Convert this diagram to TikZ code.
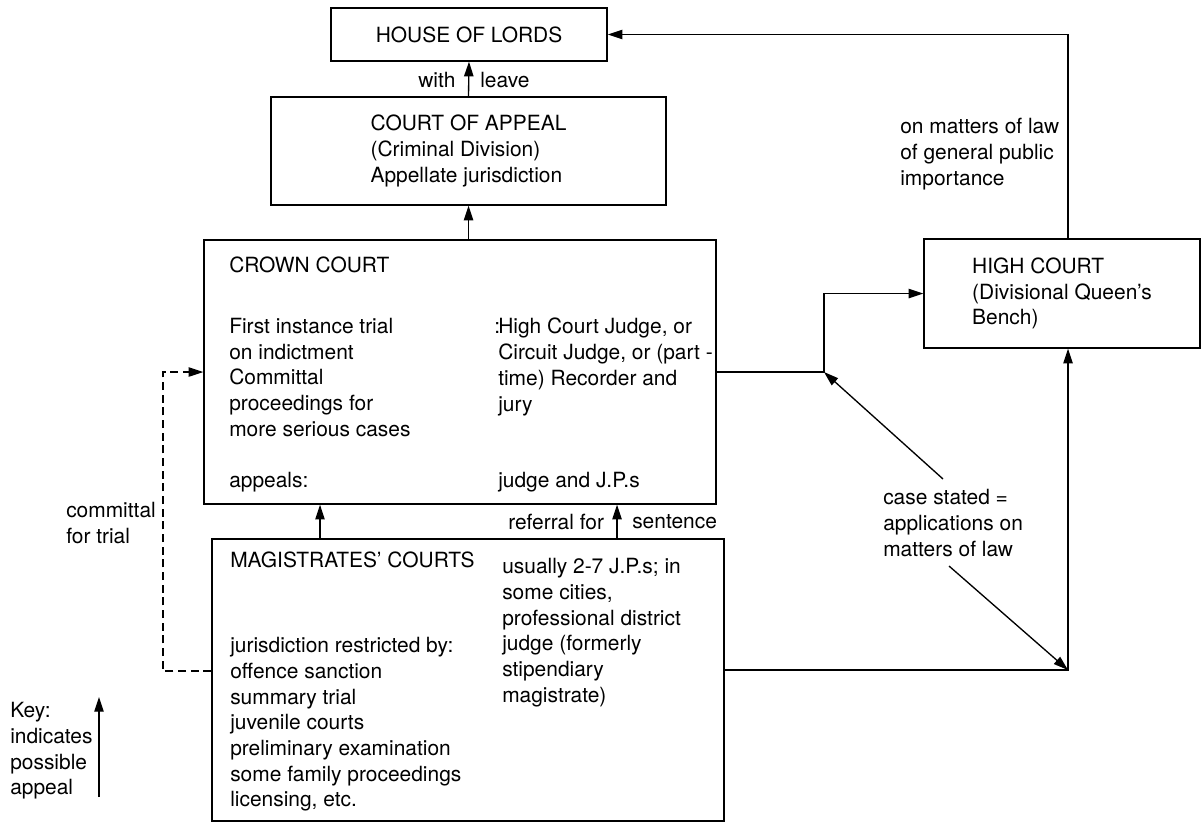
\documentclass[tikz,border=0pt]{standalone}
\usepackage{fontspec}
\setmainfont{TeX Gyre Heros}
\usepackage{tikz}
\usetikzlibrary{arrows.meta}

\begin{document}
\begin{tikzpicture}[x=0.75pt,y=0.75pt,yscale=-1,xscale=1,
  court/.style={draw, line width=1pt, inner sep=0pt, align=left},
  txt/.style={anchor=north west, inner sep=0pt, align=left},
  arr/.style={line width=1pt, -{Triangle[length=11pt,width=7pt]}},
  font=\fontsize{15.7}{19.3}\selectfont]
\useasboundingbox (0,0) rectangle (1202,824);

%Shape: Rectangle [House of Lords]
\node [court, minimum width=207pt, minimum height=39.75pt] (hol) at (469,34.5) {HOUSE OF LORDS};
%Shape: Rectangle [Court of Appeal]
\node [court, minimum width=296.25pt, minimum height=81pt] (coa) at (468.5,151) {COURT OF APPEAL\\(Criminal Division)\\Appellate jurisdiction};
%Shape: Rectangle [Crown Court]
\node [court, minimum width=384pt, minimum height=198pt] (cc) at (460,372) {};
%Shape: Rectangle [High Court]
\node [court, minimum width=207pt, minimum height=81.75pt] (hc) at (1062,293.5) {HIGH COURT\\(Divisional Queen’s\\Bench)};
%Shape: Rectangle [Magistrates]
\node [court, minimum width=384pt, minimum height=211.5pt] (mag) at (468,680) {};

% Text Node
\node [txt] (cctitle) at (229,257) {CROWN COURT};
% Text Node
\node [txt] (ccfirst) at (229,318) {First instance trial\\on indictment\\Committal\\proceedings for\\more serious cases};
% Text Node
\node [txt] (ccapp) at (229,472) {appeals:};
% Text Node
\node [txt] (ccjudge) at (498,318) {\llap{:\kern-1.5pt}High Court Judge, or\\Circuit Judge, or (part -\\time) Recorder and\\jury};
% Text Node
\node [txt] (ccjp) at (498,472) {judge and J.P.s};
% Text Node
\node [txt] (magtitle) at (230,552) {MAGISTRATES’ COURTS};
% Text Node
\node [txt] (maglist) at (230,637) {jurisdiction restricted by:\\offence sanction\\summary trial\\juvenile courts\\preliminary examination\\some family proceedings\\licensing, etc.};
% Text Node
\node [txt] (magjp) at (502,558) {usually 2-7 J.P.s; in\\some cities,\\professional district\\judge (formerly\\stipendiary\\magistrate)};
% Text Node
\node [txt] (with) at (418,72) {with};
% Text Node
\node [txt] (leave) at (480,72) {leave};
% Text Node
\node [txt] (referral) at (508,514) {referral for};
% Text Node
\node [txt] (sentence) at (632,514) {sentence};
% Text Node
\node [txt] (general) at (900,118) {on matters of law\\of general public\\importance};
% Text Node
\node [txt] (cs) at (883,489) {case stated =\\applications on\\matters of law};
% Text Node
\node [txt] (committal) at (66,502) {committal\\for trial};
% Text Node
\node [txt] (key) at (10,702) {Key:\\indicates\\possible\\appeal};

% junction points
\coordinate (up1) at (320,0);
\coordinate (up2) at (617,0);
\coordinate (jn) at (824,372);
\coordinate (jm) at (1068,670);
\coordinate (cs1) at (943,479);
\coordinate (cs2) at (949,566);
\coordinate (dt) at (163,372);
\coordinate (db) at (163,671);
\coordinate (k1) at (99,797);
\coordinate (k2) at (99,697);

% appeals
\draw [arr] (coa.north) -- (hol.south);
\draw [arr] (cc.north -| coa.south) -- (coa.south);
\draw [arr] (mag.north -| up1) -- (cc.south -| up1);
\draw [arr] (mag.north -| up2) -- (cc.south -| up2);
\draw [arr] (cc.east) -- (jn) |- (hc.west);
\draw [arr] (mag.east |- jm) -- (jm) -- (hc.south -| jm);
\draw [arr] (hc.north -| jm) |- (hol.east);
\draw [arr] (cs1) -- (jn);
\draw [arr] (cs2) -- (jm);
\draw [arr, dash pattern=on 6pt off 3.5pt] (mag.west |- db) -- (db) -- (dt) -- (cc.west |- dt);
% key
\draw [arr] (k1) -- (k2);

\end{tikzpicture}
\end{document}
